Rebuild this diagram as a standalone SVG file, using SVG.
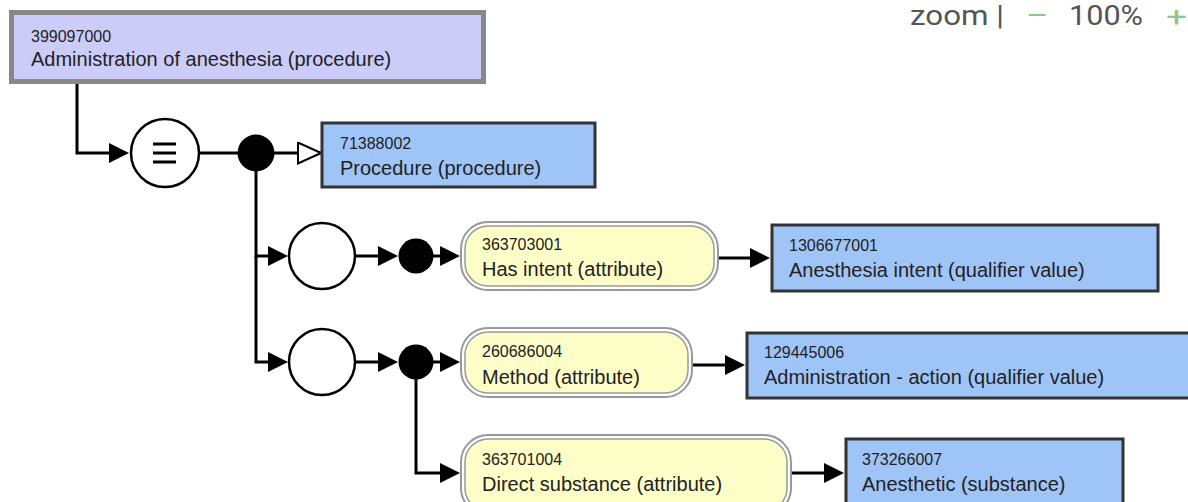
<svg xmlns="http://www.w3.org/2000/svg" width="1188" height="502" viewBox="0 0 1188 502">
<defs>
<marker id="arr" viewBox="0 0 10 10" refX="8" refY="5" markerWidth="20" markerHeight="20" markerUnits="userSpaceOnUse" orient="auto"><path d="M0,0 L10,5 L0,10 Z" fill="#000"/></marker>
<marker id="open" viewBox="0 0 25 23" refX="24" refY="11.5" markerWidth="25" markerHeight="23" markerUnits="userSpaceOnUse" orient="auto"><path d="M1,1 L24,11.5 L1,22 Z" fill="#fff" stroke="#000" stroke-width="2"/></marker>
</defs>
<style>
.num{font-family:"Liberation Sans",Arial,sans-serif;font-size:16px;fill:#222}
.lbl{font-family:"Liberation Sans",Arial,sans-serif;font-size:20px;fill:#222}
.concept{fill:#9fc5f8;stroke:#333;stroke-width:3}
.defined{fill:#ccccf8;stroke:#888;stroke-width:5}
.attrout{fill:#fff;stroke:#999;stroke-width:2}
.attr{fill:#fefec8;stroke:#999;stroke-width:1.5}
.conn{fill:none;stroke:#000;stroke-width:3}
.ring{fill:#fff;stroke:#000;stroke-width:2.5}
.dot{fill:#000}
.zoom{font-family:Roboto,"Liberation Sans",sans-serif;font-size:27px}
</style>
<rect width="1188" height="502" fill="#fff"/>
<g id="connectors">
<path class="conn" d="M77,84 V153 H125" marker-end="url(#arr)"/>
<path class="conn" d="M199,153 H238"/>
<path class="conn" d="M274,153 H321" marker-end="url(#open)"/>
<path class="conn" d="M256,171 V256 H284" marker-end="url(#arr)"/>
<path class="conn" d="M256,256 V362 H284" marker-end="url(#arr)"/>
<path class="conn" d="M355,256 H394" marker-end="url(#arr)"/>
<path class="conn" d="M355,362 H394" marker-end="url(#arr)"/>
<path class="conn" d="M433,256 H456" marker-end="url(#arr)"/>
<path class="conn" d="M433,362 H456" marker-end="url(#arr)"/>
<path class="conn" d="M416,379 V473 H456" marker-end="url(#arr)"/>
<path class="conn" d="M718,258 H766" marker-end="url(#arr)"/>
<path class="conn" d="M692,365 H741" marker-end="url(#arr)"/>
<path class="conn" d="M791,473 H840" marker-end="url(#arr)"/>
</g>
<g id="n399097000">
<rect class="defined" x="11.5" y="12.5" width="472" height="69"/>
<text class="num" x="31" y="42">399097000</text>
<text class="lbl" x="31" y="66">Administration of anesthesia (procedure)</text>
</g>
<g id="equiv">
<circle class="ring" cx="165" cy="153" r="34"/>
<path d="M153,144 H176 M153,153 H176 M153,162 H176" stroke="#000" stroke-width="3"/>
</g>
<g id="conj1"><circle class="dot" cx="256" cy="153" r="18.5"/></g>
<g id="n71388002">
<rect class="concept" x="322" y="123" width="273" height="64"/>
<text class="num" x="340" y="149">71388002</text>
<text class="lbl" x="340" y="175">Procedure (procedure)</text>
</g>
<g id="group1">
<circle class="ring" cx="322" cy="256" r="33"/>
</g>
<g id="conj2"><circle class="dot" cx="416" cy="256" r="17.5"/></g>
<g id="n363703001">
<rect class="attrout" x="461" y="222" width="257" height="68" rx="27"/>
<rect class="attr" x="465" y="226" width="249" height="60" rx="23"/>
<text class="num" x="482" y="250">363703001</text>
<text class="lbl" x="482" y="276">Has intent (attribute)</text>
</g>
<g id="n1306677001">
<rect class="concept" x="772" y="225" width="386" height="66"/>
<text class="num" x="789" y="251">1306677001</text>
<text class="lbl" x="789" y="277">Anesthesia intent (qualifier value)</text>
</g>
<g id="group2">
<circle class="ring" cx="322" cy="362" r="33"/>
</g>
<g id="conj3"><circle class="dot" cx="416" cy="362" r="17.5"/></g>
<g id="n260686004">
<rect class="attrout" x="461" y="328" width="231" height="69" rx="27"/>
<rect class="attr" x="465" y="332" width="223" height="61" rx="23"/>
<text class="num" x="482" y="357">260686004</text>
<text class="lbl" x="482" y="384">Method (attribute)</text>
</g>
<g id="n129445006">
<rect class="concept" x="747" y="333" width="450" height="65"/>
<text class="num" x="764" y="358">129445006</text>
<text class="lbl" x="764" y="384">Administration - action (qualifier value)</text>
</g>
<g id="n363701004">
<rect class="attrout" x="461" y="435" width="330" height="80" rx="27"/>
<rect class="attr" x="465" y="439" width="322" height="72" rx="23"/>
<text class="num" x="482" y="465">363701004</text>
<text class="lbl" x="482" y="491">Direct substance (attribute)</text>
</g>
<g id="n373266007">
<rect class="concept" x="846" y="439" width="277" height="75"/>
<text class="num" x="862" y="465">373266007</text>
<text class="lbl" x="862" y="491">Anesthetic (substance)</text>
</g>
<g id="zoomctl">
<text class="zoom" x="910" y="25" fill="#555" textLength="94" lengthAdjust="spacingAndGlyphs">zoom |</text>
<text class="zoom" x="1027" y="25" fill="#8cc68c" textLength="20" lengthAdjust="spacingAndGlyphs">—</text>
<text class="zoom" x="1069" y="25" fill="#555" textLength="74" lengthAdjust="spacingAndGlyphs">100%</text>
<text class="zoom" x="1166" y="26" fill="#8cc68c" font-size="30" textLength="21" lengthAdjust="spacingAndGlyphs">+</text>
</g>
</svg>
